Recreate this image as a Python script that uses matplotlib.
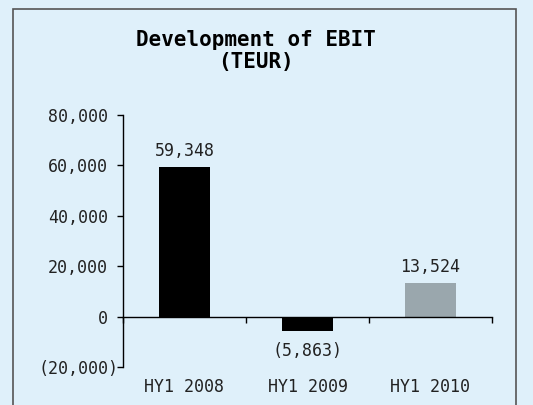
import matplotlib.pyplot as plt
from matplotlib.patches import Rectangle
from matplotlib.transforms import blended_transform_factory

periods = ["HY1 2008", "HY1 2009", "HY1 2010"]
ebit = [59348, -5863, 13524]
bar_colors = ["#000000", "#000000", "#9aa7ad"]
yticks = [-20000, 0, 20000, 40000, 60000, 80000]

bg = "#dff0fa"
mono = "DejaVu Sans Mono"


def fmt(v):
    if v < 0:
        return "({:,})".format(-v)
    return "{:,}".format(v)


fig = plt.figure(figsize=(5.33, 4.05), dpi=100)
fig.patch.set_facecolor(bg)

# frame around the chart (bottom edge runs off the image)
fig.patches.append(Rectangle((13 / 533, -0.02), (516 - 13) / 533, 1.02 - 9 / 405,
                             transform=fig.transFigure, fill=False,
                             edgecolor="#555555", linewidth=1.2))

fig.text(256 / 533, 1 - 40 / 405, "Development of EBIT", ha="center", va="center",
         fontsize=15, fontweight="bold", family=mono)
fig.text(256 / 533, 1 - 62 / 405, "(TEUR)", ha="center", va="center",
         fontsize=15, fontweight="bold", family=mono)

ax = fig.add_axes([123 / 533, 38 / 405, (492 - 123) / 533, 252 / 405])
ax.set_facecolor(bg)

x = range(len(periods))
ax.bar(x, ebit, width=0.41, color=bar_colors)

ax.set_xlim(-0.5, 2.5)
ax.set_ylim(-20000, 80000)

for s in ["top", "right"]:
    ax.spines[s].set_visible(False)
ax.spines["bottom"].set_position(("data", 0))
ax.spines["left"].set_linewidth(1)
ax.spines["bottom"].set_linewidth(1)

ax.set_xticks([-0.5, 0.5, 1.5, 2.5])
ax.set_xticklabels([])
ax.tick_params(axis="x", direction="out", length=4, width=1)

# negative tick labels are drawn separately: their closing bracket hangs right
ax.set_yticks(yticks)
ax.set_yticklabels([fmt(v) if v >= 0 else "" for v in yticks],
                   family=mono, fontsize=12, color="#222222")
ax.tick_params(axis="y", direction="out", length=4, width=1, pad=7)
ytrans = blended_transform_factory(ax.transAxes, ax.transData)
for v in yticks:
    if v < 0:
        ax.annotate(fmt(v), (0, v), xycoords=ytrans, xytext=(-3.6, 0),
                    textcoords="offset points", ha="right", va="center_baseline",
                    family=mono, fontsize=12, color="#222222", annotation_clip=False)

# category labels sit below the plot area
trans = blended_transform_factory(ax.transData, ax.transAxes)
for i, p in enumerate(periods):
    ax.text(i, -0.08, p, transform=trans, ha="center", va="center",
            family=mono, fontsize=12, color="#222222")

# value labels
for i, v in enumerate(ebit):
    if v >= 0:
        ax.annotate(fmt(v), (i, v), xytext=(0, 5), textcoords="offset points",
                    ha="center", va="bottom", family=mono, fontsize=12, color="#222222")
    else:
        ax.annotate(fmt(v), (i, v), xytext=(0, -8), textcoords="offset points",
                    ha="center", va="top", family=mono, fontsize=12, color="#222222")

plt.savefig("out.png", dpi=100, facecolor=bg)
